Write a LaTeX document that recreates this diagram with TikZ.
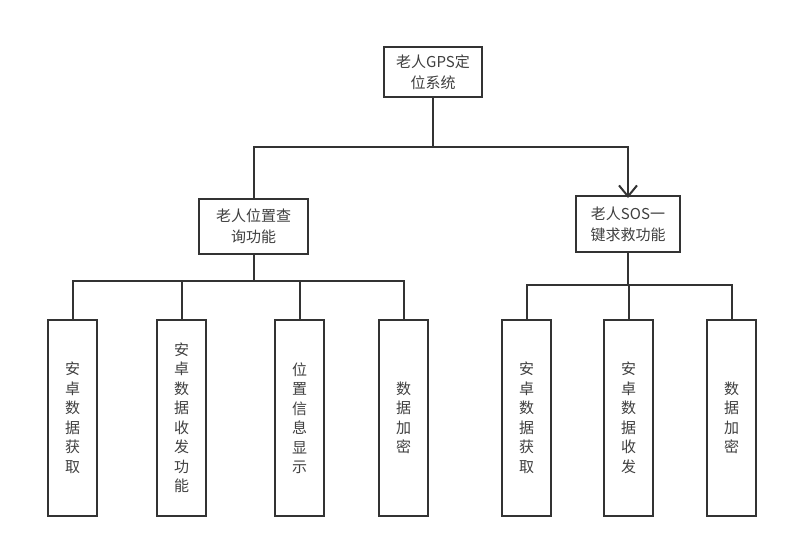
\documentclass[tikz,border=0pt]{standalone}
\usepackage{fontspec}
\setmainfont{Noto Sans CJK SC}
\usetikzlibrary{arrows.meta}
\definecolor{lc}{HTML}{333333}
\definecolor{tc}{HTML}{404040}
\tikzset{
  box/.style={draw=lc, line width=2pt, rectangle, inner sep=0pt, align=center, text=tc,
    font=\fontsize{15pt}{21pt}\selectfont},
  leaf/.style={box, minimum width=49pt, minimum height=196pt,
    font=\fontsize{15pt}{19.5pt}\selectfont},
  conn/.style={draw=lc, line width=2pt},
}
\begin{document}
\begin{tikzpicture}[x=1pt,y=-1pt]
\useasboundingbox (0,0) rectangle (788,548);
\fill[white] (0,0) rectangle (788,548);
\node[box, minimum width=98pt, minimum height=50pt] (top) at (433,72) {老人GPS定\\位系统};
\node[box, minimum width=109pt, minimum height=55pt] (lmid) at (253.5,226.5) {老人位置查\\询功能};
\node[box, minimum width=104pt, minimum height=56pt] (rmid) at (628,224) {老人SOS一\\键求救功能};
\node[leaf] (l1) at (72.5,418) {安\\卓\\数\\据\\获\\取};
\node[leaf] (l2) at (181.5,418) {安\\卓\\数\\据\\收\\发\\功\\能};
\node[leaf] (l3) at (299.5,418) {位\\置\\信\\息\\显\\示};
\node[leaf] (l4) at (403.5,418) {数\\据\\加\\密};
\node[leaf] (r1) at (526.5,418) {安\\卓\\数\\据\\获\\取};
\node[leaf] (r2) at (628.5,418) {安\\卓\\数\\据\\收\\发};
\node[leaf] (r3) at (731.5,418) {数\\据\\加\\密};
\coordinate (j1) at (433,147);
\coordinate (jl) at (253.5,281);
\coordinate (jr) at (628,285);
\draw[conn] (top.south) -- (j1);
\draw[conn] (j1) -| (lmid.north);
\draw[conn, -{Straight Barb[length=11pt,width=18pt,line width=2pt]}] (j1) -| ([yshift=-3pt]rmid.north);
\draw[conn] (lmid.south) -- (jl);
\draw[conn] (jl) -| (l1.north);
\draw[conn] (jl) -| (l2.north);
\draw[conn] (jl) -| (l3.north);
\draw[conn] (jl) -| (l4.north);
\draw[conn] (rmid.south) -- (jr);
\draw[conn] (jr) -| (r1.north);
\draw[conn] (jr) -| (r2.north);
\draw[conn] (jr) -| (r3.north);
\end{tikzpicture}
\end{document}
